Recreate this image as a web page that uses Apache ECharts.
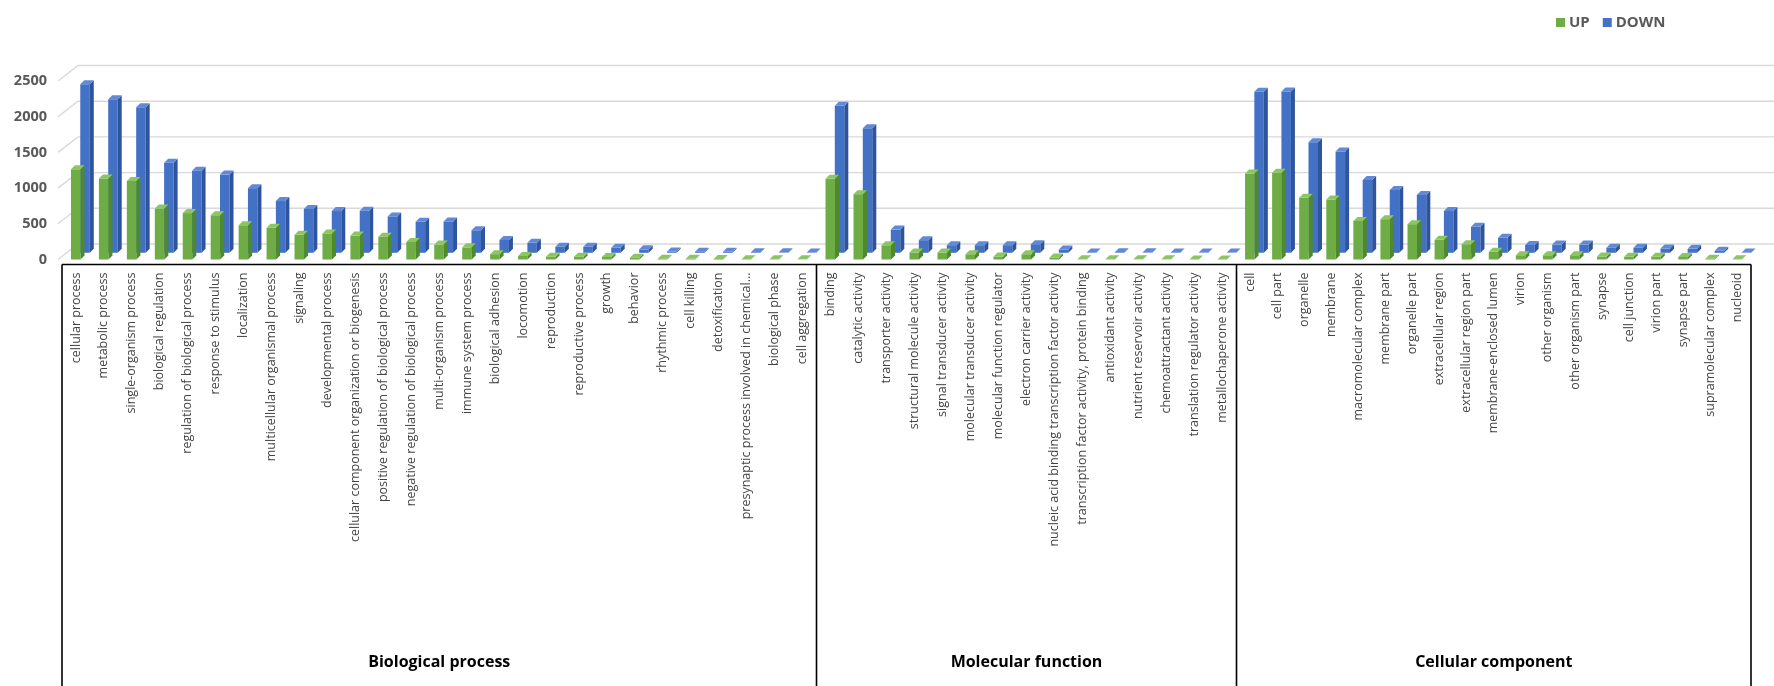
<!DOCTYPE html>
<html>
<head>
<meta charset="utf-8">
<script src="https://cdn.jsdelivr.net/npm/echarts@6/dist/echarts.min.js"></script>
<style>
  html, body { margin: 0; padding: 0; background: #ffffff; }
  #chart { width: 1774px; height: 686px; }
</style>
</head>
<body>
<div id="chart"></div>
<script>
// GO terms per ontology, in plotted order
const bpTerms = [
  'cellular process', 'metabolic process', 'single-organism process', 'biological regulation',
  'regulation of biological process', 'response to stimulus', 'localization',
  'multicellular organismal process', 'signaling', 'developmental process',
  'cellular component organization or biogenesis', 'positive regulation of biological process',
  'negative regulation of biological process', 'multi-organism process', 'immune system process',
  'biological adhesion', 'locomotion', 'reproduction', 'reproductive process', 'growth',
  'behavior', 'rhythmic process', 'cell killing', 'detoxification',
  'presynaptic process involved in chemical...', 'biological phase', 'cell aggregation'
];
const mfTerms = [
  'binding', 'catalytic activity', 'transporter activity', 'structural molecule activity',
  'signal transducer activity', 'molecular transducer activity', 'molecular function regulator',
  'electron carrier activity', 'nucleic acid binding transcription factor activity',
  'transcription factor activity, protein binding', 'antioxidant activity',
  'nutrient reservoir activity', 'chemoattractant activity', 'translation regulator activity',
  'metallochaperone activity'
];
const ccTerms = [
  'cell', 'cell part', 'organelle', 'membrane', 'macromolecular complex', 'membrane part',
  'organelle part', 'extracellular region', 'extracellular region part',
  'membrane-enclosed lumen', 'virion', 'other organism', 'other organism part', 'synapse',
  'cell junction', 'virion part', 'synapse part', 'supramolecular complex', 'nucleoid'
];
const groupNames = ['Biological process', 'Molecular function', 'Cellular component'];

// gene counts
const upBP   = [1265, 1135, 1100, 715, 650, 620, 480, 445, 345, 365, 335, 320, 245, 210, 170, 75, 50, 40, 40, 35, 25, 12, 10, 8, 4, 3, 2];
const downBP = [2360, 2150, 2040, 1260, 1150, 1095, 905, 725, 615, 585, 590, 510, 435, 440, 315, 180, 140, 85, 85, 70, 48, 18, 16, 14, 8, 6, 4];
const upMF   = [1130, 915, 200, 98, 98, 74, 42, 74, 28, 3, 3, 2, 2, 1, 1];
const downMF = [2060, 1745, 325, 177, 107, 107, 107, 121, 46, 5, 8, 6, 5, 4, 3];
const upCC   = [1205, 1215, 865, 840, 540, 565, 495, 275, 214, 108, 60, 60, 60, 42, 38, 38, 35, 12, 3];
const downCC = [2255, 2260, 1550, 1420, 1020, 880, 810, 585, 365, 210, 110, 115, 115, 72, 72, 60, 55, 28, 4];

const yTicks = [0, 500, 1000, 1500, 2000, 2500];

const groups = [
  { terms: bpTerms, up: upBP, down: downBP },
  { terms: mfTerms, up: upMF, down: downMF },
  { terms: ccTerms, up: upCC, down: downCC }
];

const FONT = "'Open Sans', 'Liberation Sans', sans-serif";
const GREEN = { front: '#6EAD45', side: '#4E8A2C', top: '#8CC563' };
const BLUE = { front: '#4371C6', side: '#2D549C', top: '#6189D6' };

// one panel per ontology; panels narrow slightly to the right (receding 3-D floor)
const PANEL_TOP = 81, PANEL_H = 178.5;
const panelLayout = [
  { left: 62, width: 754.5 },
  { left: 816.5, width: 420 },
  { left: 1236.5, width: 514.5 }
];

// pseudo-3D column: front face, right side face and top face
function columnRenderer(colors, shiftX, shiftY) {
  const FRONT_LEFT = -5, FRONT_W = 9.5, DX = 4, DY = -4;
  return function (params, api) {
    const i = api.value(0);
    const v = api.value(1);
    const base = api.coord([i, 0]);
    const top = api.coord([i, v]);
    const x0 = base[0] + FRONT_LEFT + shiftX;
    const x1 = x0 + FRONT_W;
    const yb = base[1] + shiftY;
    const yt = top[1] + shiftY;
    return {
      type: 'group',
      children: [
        { type: 'polygon', shape: { points: [[x0, yt], [x1, yt], [x1, yb], [x0, yb]] },
          style: { fill: colors.front } },
        { type: 'polygon', shape: { points: [[x1, yt], [x1 + DX, yt + DY], [x1 + DX, yb + DY], [x1, yb]] },
          style: { fill: colors.side } },
        { type: 'polygon', shape: { points: [[x0, yt], [x1, yt], [x1 + DX, yt + DY], [x0 + DX, yt + DY]] },
          style: { fill: colors.top } }
      ]
    };
  };
}

// back-wall gridline with its slanted side-wall segment
function gridlineRenderer(params, api) {
  const v = api.value(0);
  const p = api.coord([0, v]);
  const band = api.size([1, 0])[0];
  const xl = p[0] - band / 2;
  const y = p[1];
  return {
    type: 'polyline',
    shape: { points: [[xl - 4, y], [xl + 16, y - 15.5], [api.getWidth(), y - 15.5]] },
    style: { stroke: '#D9D9D9', lineWidth: 1.4, fill: null }
  };
}

const grids = [], xAxes = [], yAxes = [];
const series = [{
  name: 'gridlines', type: 'custom', silent: true, clip: false, z: 1,
  xAxisIndex: 0, yAxisIndex: 0,
  data: yTicks.map(function (t) { return [t]; }),
  encode: { y: 0 },
  renderItem: gridlineRenderer
}];

groups.forEach(function (g, k) {
  grids.push({ left: panelLayout[k].left, width: panelLayout[k].width, top: PANEL_TOP, height: PANEL_H });
  xAxes.push({
    type: 'category', gridIndex: k, data: g.terms, boundaryGap: true,
    axisLine: { show: false }, axisTick: { show: false },
    axisLabel: { interval: 0, rotate: 90, margin: 13, fontFamily: FONT, fontSize: 12.5, color: '#444444' }
  });
  yAxes.push({
    type: 'value', gridIndex: k, min: 0, max: 2500, interval: 500,
    axisLine: { show: false }, axisTick: { show: false }, splitLine: { show: false },
    axisLabel: {
      show: k === 0, margin: 15, fontFamily: FONT, fontSize: 14.5, fontWeight: 'bold', color: '#595959',
      formatter: function (v) { return String(v); }
    }
  });
  series.push({
    name: 'DOWN', type: 'custom', clip: false, z: 2, xAxisIndex: k, yAxisIndex: k,
    itemStyle: { color: BLUE.front },
    data: g.down.map(function (v, i) { return [i, v]; }),
    encode: { x: 0, y: 1 },
    renderItem: columnRenderer(BLUE, 9.3, -6.7)
  });
  series.push({
    name: 'UP', type: 'custom', clip: false, z: 3, xAxisIndex: k, yAxisIndex: k,
    itemStyle: { color: GREEN.front },
    data: g.up.map(function (v, i) { return [i, v]; }),
    encode: { x: 0, y: 1 },
    renderItem: columnRenderer(GREEN, 0, 0)
  });
});

const chart = echarts.init(document.getElementById('chart'), null, { renderer: 'canvas' });

chart.setOption({
  animation: false,
  backgroundColor: '#ffffff',
  legend: {
    data: ['UP', 'DOWN'],
    left: 1551, top: 10,
    icon: 'rect', itemWidth: 9, itemHeight: 9, itemGap: 13,
    textStyle: { fontFamily: FONT, fontSize: 15, fontWeight: 'bold', color: '#595959', padding: [0, 0, 0, -1] }
  },
  grid: grids,
  xAxis: xAxes,
  yAxis: yAxes,
  series: series
});

// ontology frame and group titles, positioned from each panel's category axis
(function drawFrame() {
  const yZero = chart.convertToPixel({ yAxisIndex: 0 }, 0);
  const boxTop = yZero + 5;
  const boxBottom = 690;
  const lineStyle = { stroke: '#000000', lineWidth: 1.6 };

  const spans = groups.map(function (g, k) {
    const a = chart.convertToPixel({ xAxisIndex: k }, 0);
    const b = chart.convertToPixel({ xAxisIndex: k }, 1);
    const band = b - a;
    return [a - band / 2, a + (g.terms.length - 0.5) * band];
  });
  const xs = [spans[0][0]].concat(spans.map(function (s) { return s[1]; }));

  const elements = [
    { type: 'line', shape: { x1: xs[0], y1: boxTop, x2: xs[xs.length - 1], y2: boxTop }, style: lineStyle, silent: true }
  ];
  xs.forEach(function (x) {
    elements.push({ type: 'line', shape: { x1: x, y1: boxTop, x2: x, y2: boxBottom }, style: lineStyle, silent: true });
  });
  groupNames.forEach(function (name, k) {
    elements.push({
      type: 'text', silent: true,
      x: (spans[k][0] + spans[k][1]) / 2, y: 662,
      style: {
        text: name, fill: '#000000', align: 'center', verticalAlign: 'middle',
        font: "bold 16px 'Open Sans', 'Liberation Sans', sans-serif"
      }
    });
  });
  chart.setOption({ graphic: elements });
})();
</script>
</body>
</html>
